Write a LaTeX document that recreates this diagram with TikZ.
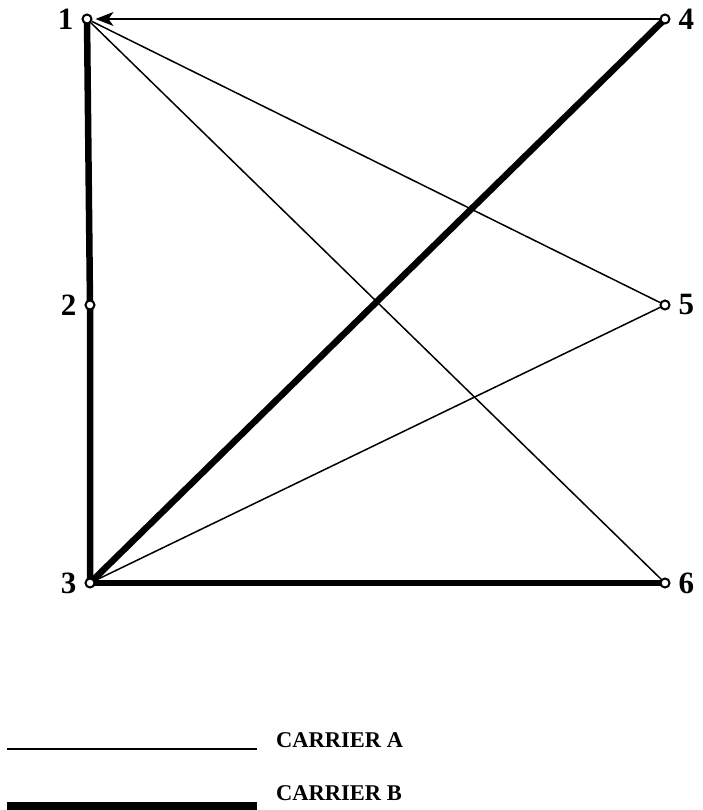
\documentclass[tikz,border=0pt]{standalone}
\usepackage{fontspec}
\setmainfont{Liberation Serif}
\usepackage{tikz}
\usetikzlibrary{positioning,arrows.meta,backgrounds}

\begin{document}
\begin{tikzpicture}[x=1pt,y=-1pt,font=\bfseries,node distance=8pt]
  \tikzstyle{stop}=[draw,circle,line width=2pt,inner sep=0pt,minimum size=9pt,fill=white]
  \tikzstyle{carrA}=[line width=1.5pt]
  \tikzstyle{carrB}=[line width=6.5pt]
  \tikzstyle{num}=[inner sep=0pt,font=\fontsize{31}{31}\selectfont\bfseries]
  \useasboundingbox (0,0) rectangle (702,810);
  % stops
  \node[stop] (s1) at (87,19) {};
  \node[stop] (s2) at (90,305) {};
  \node[stop] (s3) at (90,583) {};
  \node[stop] (s4) at (665,19) {};
  \node[stop] (s5) at (665,305) {};
  \node[stop] (s6) at (665,583) {};
  \node[num,left=of s1] (l1) {1};
  \node[num,left=of s2] (l2) {2};
  \node[num,left=of s3] (l3) {3};
  \node[num,right=of s4] (l4) {4};
  \node[num,right=of s5] (l5) {5};
  \node[num,right=of s6] (l6) {6};
  \begin{scope}[on background layer]
    % carrier A
    \draw[carrA,-{Stealth[length=18pt,width=14pt,inset=5pt]},shorten >=3pt] (s4) -- (s1);
    \draw[carrA] (s5.center) -- (s1);
    \draw[carrA] (s6.center) -- (s1);
    \draw[carrA] (s3.center) -- (s5.center);
    % carrier B
    \draw[carrB] (s1.center) -- (s2.center) -- (s3.center);
    \draw[carrB] (s3.center) -- (s4.center);
    \draw[carrB] (s3.center) -- (s6.center);
  \end{scope}
  % legend
  \coordinate (la1) at (7,749);
  \coordinate (la2) at (257,749);
  \coordinate (lb1) at (7,806);
  \coordinate (lb2) at (257,806);
  \draw[carrA,line width=2pt] (la1) -- (la2);
  \draw[carrB,line width=8pt] (lb1) -- (lb2);
  \node[anchor=base west,inner sep=0pt,font=\fontsize{22.5}{22.5}\selectfont\bfseries] (ta) at (276,747) {CARRIER A};
  \node[anchor=base west,inner sep=0pt,font=\fontsize{22.5}{22.5}\selectfont\bfseries] (tb) at (276,800) {CARRIER B};
\end{tikzpicture}
\end{document}
